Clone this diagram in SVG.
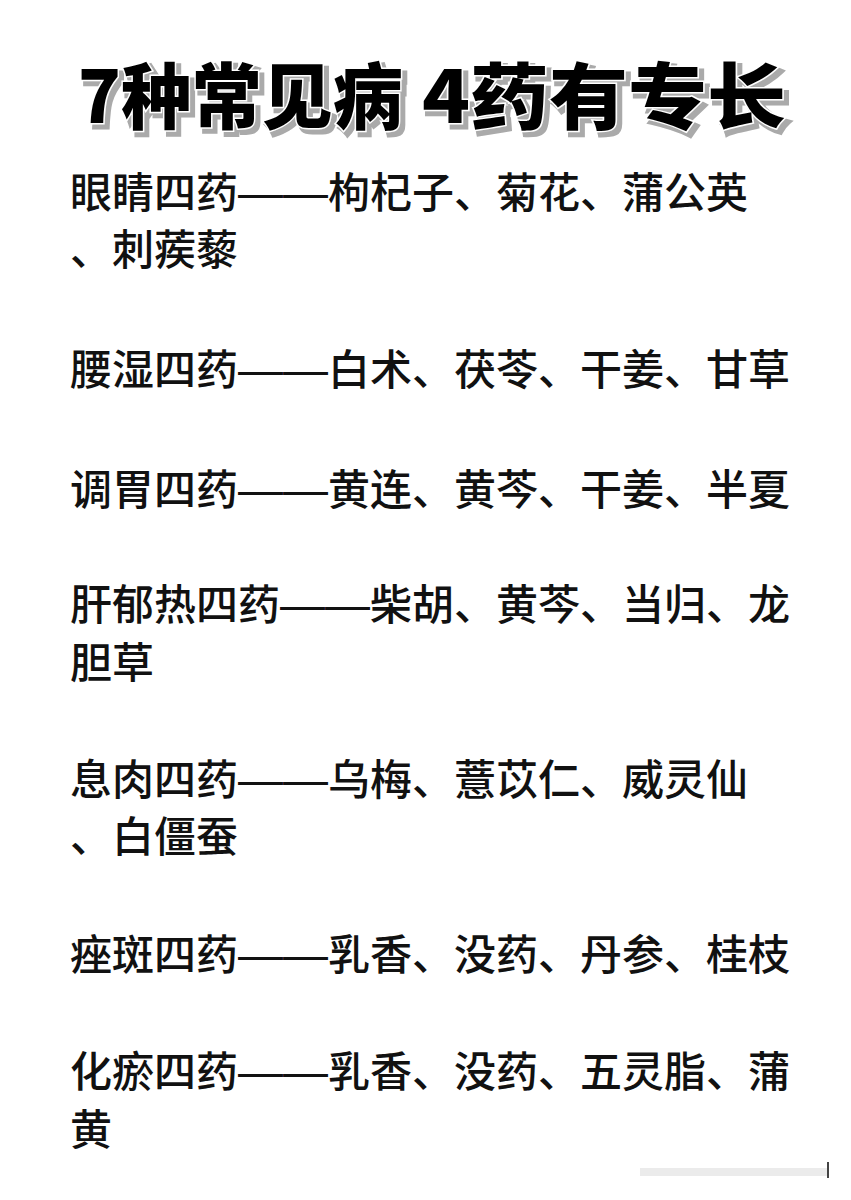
<svg xmlns="http://www.w3.org/2000/svg" width="851" height="1200" viewBox="0 0 851 1200">
<style>
.t{font-family:"Noto Sans CJK SC","Noto Sans",sans-serif;font-size:72px;font-weight:900}
.s{fill:#aaa;stroke:#aaa;stroke-width:5}
.f{fill:#000;stroke:#fff;stroke-width:3;paint-order:stroke}
.b{font-family:"Noto Sans CJK SC","Noto Sans",sans-serif;font-size:42px;font-weight:500;fill:#111}
.d{font-family:"Liberation Sans",sans-serif;font-size:45px}
</style>
<rect width="851" height="1200" fill="#fff"/>
<g id="title">
<text class="t s" x="82" y="127" textLength="325" lengthAdjust="spacingAndGlyphs">7种常见病</text>
<text class="t s" x="426" y="127" textLength="364" lengthAdjust="spacingAndGlyphs">4药有专长</text>
<text class="t f" x="78" y="123" textLength="325" lengthAdjust="spacingAndGlyphs">7种常见病</text>
<text class="t f" x="422" y="123" textLength="364" lengthAdjust="spacingAndGlyphs">4药有专长</text>
</g>
<g id="lines">
<text class="b" x="70" y="208">眼睛四药<tspan class="d">——</tspan>枸杞子、菊花、蒲公英</text>
<text class="b" x="70" y="265">、刺蒺藜</text>
<text class="b" x="70" y="385">腰湿四药<tspan class="d">——</tspan>白术、茯苓、干姜、甘草</text>
<text class="b" x="70" y="505">调胃四药<tspan class="d">——</tspan>黄连、黄芩、干姜、半夏</text>
<text class="b" x="70" y="620">肝郁热四药<tspan class="d">——</tspan>柴胡、黄芩、当归、龙</text>
<text class="b" x="70" y="678">胆草</text>
<text class="b" x="70" y="795">息肉四药<tspan class="d">——</tspan>乌梅、薏苡仁、威灵仙</text>
<text class="b" x="70" y="852">、白僵蚕</text>
<text class="b" x="70" y="970">痤斑四药<tspan class="d">——</tspan>乳香、没药、丹参、桂枝</text>
<text class="b" x="70" y="1087">化瘀四药<tspan class="d">——</tspan>乳香、没药、五灵脂、蒲</text>
<text class="b" x="70" y="1145">黄</text>
</g>
<g id="bar" stroke="#bbb" stroke-width="2">
<line x1="640" y1="1172" x2="828" y2="1172" stroke="#ebebeb" stroke-width="8"/>
<line x1="828" y1="1162" x2="828" y2="1178" stroke="#444"/>
</g>
</svg>
